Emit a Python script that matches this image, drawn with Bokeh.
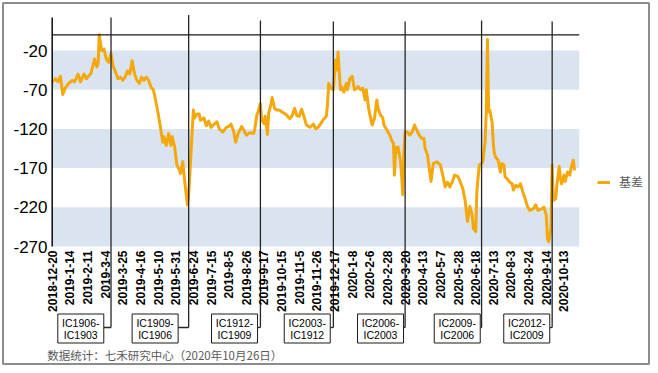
import numpy as np
from bokeh.plotting import figure
from bokeh.models import Range1d, Legend, LegendItem
from bokeh.core.properties import value
from bokeh.embed import file_html
from bokeh.resources import INLINE

# ---------------- data ----------------
tick_labels = ["2018-12-20", "2019-1-14", "2019-2-11", "2019-3-4", "2019-3-25",
               "2019-4-16", "2019-5-10", "2019-5-31", "2019-6-24", "2019-7-15",
               "2019-8-5", "2019-8-26", "2019-9-17", "2019-10-15", "2019-11-5",
               "2019-11-26", "2019-12-17", "2020-1-8", "2020-2-6", "2020-2-28",
               "2020-3-20", "2020-4-13", "2020-5-7", "2020-5-28", "2020-6-18",
               "2020-7-13", "2020-8-3", "2020-8-24", "2020-9-14", "2020-10-13"]
tick_step = 15          # one label every 15 trading days
n_days = 448            # width of the category axis (trading days)

# trading-day index and basis value
day_idx = [0, 3, 5, 7, 9, 11, 14, 17, 19, 22, 24, 27, 29, 33, 36, 38, 39, 40, 42, 44,
           46, 48, 50, 52, 54, 56, 58, 60, 62, 64, 66, 68, 70, 72, 74, 76, 78, 80, 82, 84,
           86, 88, 90, 92, 94, 95, 97, 99, 101, 102, 104, 106, 108, 109, 111, 113, 115, 116, 118, 120,
           121, 123, 125, 126, 129, 131, 133, 135, 137, 140, 142, 145, 148, 150, 152, 154, 156, 158, 161, 163,
           165, 168, 171, 172, 174, 175, 177, 178, 180, 181, 183, 184, 186, 187, 189, 191, 193, 196, 199, 202,
           204, 206, 208, 210, 212, 214, 216, 219, 222, 224, 226, 228, 230, 233, 234, 235, 237, 239, 241, 242,
           243, 245, 246, 248, 250, 251, 253, 255, 257, 259, 260, 262, 264, 266, 267, 269, 271, 272, 274, 276,
           277, 279, 281, 282, 284, 287, 289, 290, 291, 292, 293, 294, 296, 297, 298, 299, 300, 302, 304, 306,
           308, 310, 312, 314, 316, 317, 319, 322, 323, 324, 327, 330, 332, 334, 336, 338, 340, 342, 345, 347,
           349, 351, 353, 355, 357, 358, 360, 361, 363, 365, 366, 368, 369, 370, 371, 372, 373, 374, 375, 376,
           377, 379, 381, 382, 384, 385, 387, 389, 391, 392, 394, 396, 398, 400, 402, 404, 406, 409, 411, 413,
           416, 418, 420, 421, 422, 424, 425, 426, 428, 429, 431, 432, 433, 435, 436, 438, 440, 441, 443, 444]
basis = [-60, -56, -60, -53, -76, -68, -62, -58, -60, -50, -60, -50, -56, -49, -31, -41, -37, 0, -20, -18,
         -31, -35, -24, -41, -48, -56, -54, -58, -54, -46, -50, -33, -50, -58, -62, -54, -58, -54, -58, -67,
         -70, -84, -100, -118, -137, -130, -141, -126, -141, -130, -142, -166, -172, -177, -162, -192, -217, -205, -150, -96,
         -106, -101, -101, -109, -106, -116, -110, -118, -115, -111, -120, -124, -118, -117, -114, -122, -137, -126, -117, -122,
         -128, -125, -126, -122, -102, -98, -88, -108, -113, -104, -127, -100, -88, -80, -94, -96, -96, -99, -102, -107,
         -103, -94, -103, -104, -95, -104, -115, -118, -114, -120, -118, -114, -109, -104, -90, -62, -68, -70, -32, -45,
         -22, -70, -66, -73, -62, -70, -56, -53, -70, -68, -66, -70, -68, -83, -70, -94, -109, -115, -106, -83,
         -94, -102, -106, -115, -120, -128, -136, -138, -179, -143, -150, -143, -160, -179, -204, -150, -124, -124, -128, -124,
         -115, -122, -128, -132, -132, -145, -153, -187, -175, -164, -162, -166, -179, -194, -188, -194, -188, -179, -181, -188,
         -196, -211, -238, -219, -230, -247, -251, -200, -166, -164, -162, -136, -98, -6, -98, -96, -104, -112, -140, -152,
         -156, -160, -175, -164, -166, -181, -184, -188, -190, -198, -192, -194, -190, -200, -209, -219, -224, -222, -217, -224,
         -222, -220, -230, -260, -264, -247, -166, -211, -209, -192, -168, -183, -190, -179, -187, -175, -179, -170, -160, -173]

y_ticks = [-20, -70, -120, -170, -220, -270]
y_top = 0

# contract roll markers
roll_idx = [50, 116, 177, 239, 300, 365, 425]
roll_labels = ["IC1906-\nIC1903", "IC1909-\nIC1906", "IC1912-\nIC1909", "IC2003-\nIC1912",
               "IC2006-\nIC2003", "IC2009-\nIC2006", "IC2012-\nIC2009"]
box_center = [24.3, 87.5, 155.0, 216.8, 279.1, 344.3, 403.4]

source_text = "数据统计：七禾研究中心（2020年10月26日）"
series_name = "基差"

# ---------------- layout helpers (picture px -> data) ----------------
PX0, PXU = 51.7, 1.1764     # picture x of day 0, px per trading day
PY0, PYU = 50.0, 0.784      # picture y of -20, px per unit
def px2x(px):
    return (px - PX0) / PXU
def py2y(py):
    return -20 - (py - PY0) / PYU

W, H = 650, 365
p = figure(width=W, height=H, output_backend="svg", toolbar_location=None,
           x_axis_type=None, y_axis_type=None, min_border=0, title=None,
           x_range=Range1d(px2x(0), px2x(W)),
           y_range=Range1d(py2y(H), py2y(0)))
p.outline_line_color = None
p.background_fill_color = "white"
p.border_fill_color = "white"

# outer border of the chart area
p.quad(left=[px2x(2.5)], right=[px2x(W - 1.5)], top=[py2y(2.5)], bottom=[py2y(H - 1.5)],
       fill_color=None, line_color="#8c8c8c", line_width=2)

# alternating bands
p.quad(left=0, right=n_days, top=y_ticks[0::2], bottom=y_ticks[1::2],
       fill_color="#dae4f0", line_color=None)

# data line
r = p.line(day_idx, basis, line_color="#f5a80c", line_width=3, line_join="round")

# top line and left line
p.segment(x0=[0], y0=[y_top], x1=[n_days], y1=[y_top], line_color="#1a1a1a", line_width=1.3)
p.segment(x0=[0], y0=[py2y(17)], x1=[0], y1=[y_ticks[-1]], line_color="#1a1a1a", line_width=1.6)

# roll marker lines, connectors, boxes
box_w = 46 / PXU
box_h = 29 / PYU
box_y = py2y(328)
conn_y = py2y(327)
top_y = [py2y(v) for v in (17, 14.5, 20, 21, 21, 20, 21)]
p.segment(x0=roll_idx, y0=top_y, x1=roll_idx, y1=[conn_y] * len(roll_idx),
          line_color="#262626", line_width=1.3)
box_right = [c + box_w / 2 for c in box_center]
p.segment(x0=roll_idx, y0=[conn_y] * len(roll_idx), x1=box_right, y1=[conn_y] * len(roll_idx),
          line_color="#262626", line_width=1.3)
p.rect(x=box_center, y=[box_y] * len(box_center), width=box_w, height=box_h,
       fill_color="white", line_color="#1a1a1a", line_width=1)
p.text(x=box_center, y=[box_y] * len(box_center), text=roll_labels,
       text_align="center", text_baseline="middle", text_line_height=1.0,
       text_font=value("Liberation Sans"), text_font_size="10.5px", text_color="black")

# x tick labels (vertical)
tick_x = [i * tick_step for i in range(len(tick_labels))]
p.text(x=tick_x, y=[py2y(250)] * len(tick_x), text=tick_labels, angle=np.pi / 2,
       text_align="right", text_baseline="middle",
       text_font=value("Liberation Sans"), text_font_size="12px", text_font_style="bold",
       text_color="black")

# y tick labels
p.text(x=[px2x(47)] * len(y_ticks), y=y_ticks, text=[str(v) for v in y_ticks],
       text_align="right", text_baseline="middle",
       text_font=value("Liberation Sans"), text_font_size="17px", text_color="black")

# source note
p.text(x=[px2x(46.7)], y=[py2y(354)], text=[source_text], text_align="left",
       text_baseline="middle", text_font=value("Noto Sans CJK SC"),
       text_font_size="11.5px", text_color="#595959")

# legend
legend = Legend(items=[LegendItem(label=series_name, renderers=[r])],
                location=(597, H - 190), padding=0, margin=0, spacing=0,
                glyph_width=13, glyph_height=14, label_height=14, label_standoff=9,
                label_text_font="Noto Sans CJK SC", label_text_font_size="12px",
                label_text_color="#595959", border_line_color=None,
                background_fill_alpha=0)
p.add_layout(legend)

open("out.html", "w").write(file_html(p, INLINE))
